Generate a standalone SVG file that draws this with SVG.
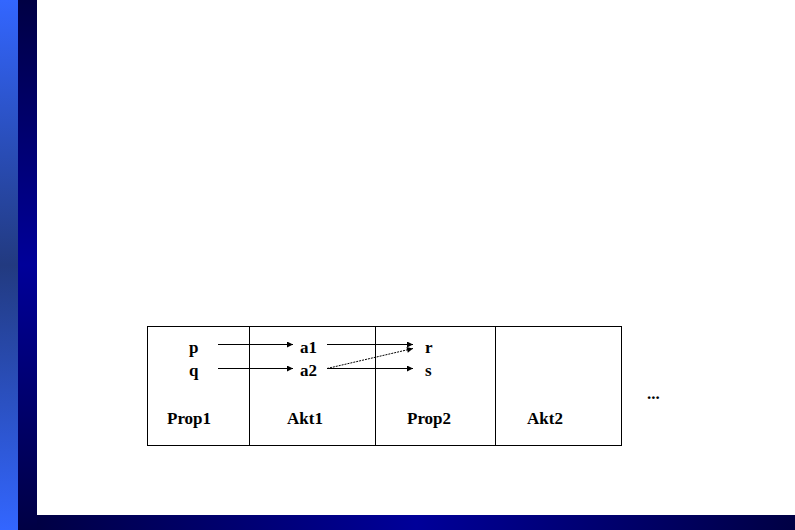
<svg xmlns="http://www.w3.org/2000/svg" width="795" height="530" viewBox="0 0 795 530">
<defs>
<linearGradient id="lb" x1="0" y1="0" x2="0" y2="1">
<stop offset="0" stop-color="#3366ff"/>
<stop offset="0.5" stop-color="#223a80"/>
<stop offset="1" stop-color="#3366ff"/>
</linearGradient>
<linearGradient id="db" x1="0" y1="0" x2="0" y2="1">
<stop offset="0" stop-color="#000044"/>
<stop offset="0.5" stop-color="#000099"/>
<stop offset="1" stop-color="#000044"/>
</linearGradient>
<linearGradient id="bb" x1="0" y1="0" x2="1" y2="0">
<stop offset="0" stop-color="#000044"/>
<stop offset="0.5" stop-color="#000099"/>
<stop offset="1" stop-color="#000044"/>
</linearGradient>
<marker id="ah" viewBox="0 0 10 10" refX="10" refY="5" markerWidth="9" markerHeight="6" markerUnits="userSpaceOnUse" orient="auto">
<path d="M0,0 L10,5 L0,10 z" fill="#000"/>
</marker>
<style>
.t{font-family:"Liberation Serif","Times New Roman",serif;font-weight:bold;font-size:17px;fill:#000}
.c{stroke:#000;stroke-width:1;fill:none}
</style>
</defs>
<rect x="0" y="0" width="795" height="530" fill="#fff"/>
<rect x="0" y="0" width="18" height="530" fill="url(#lb)"/>
<rect x="18" y="0" width="19" height="530" fill="url(#db)"/>
<rect x="37" y="515" width="758" height="15" fill="url(#bb)"/>
<g id="table" fill="none" stroke="#000" stroke-width="1">
<rect x="147.5" y="326.5" width="474" height="119"/>
<line x1="249.5" y1="326" x2="249.5" y2="446"/>
<line x1="375.5" y1="326" x2="375.5" y2="446"/>
<line x1="495.5" y1="326" x2="495.5" y2="446"/>
</g>
<g id="prop1"><text class="t" x="189" y="353">p</text><text class="t" x="189" y="376">q</text><text class="t" x="167" y="424">Prop1</text></g>
<g id="akt1"><text class="t" x="300" y="353">a1</text><text class="t" x="300" y="376">a2</text><text class="t" x="287" y="424">Akt1</text></g>
<g id="prop2"><text class="t" x="425" y="353">r</text><text class="t" x="425" y="376">s</text><text class="t" x="407" y="424">Prop2</text></g>
<g id="akt2"><text class="t" x="527" y="424">Akt2</text></g>
<g id="more"><text class="t" x="647" y="399">...</text></g>
<g id="connectors">
<line class="c" x1="218" y1="344.5" x2="293" y2="344.5" marker-end="url(#ah)"/>
<line class="c" x1="218" y1="368.5" x2="293" y2="368.5" marker-end="url(#ah)"/>
<line class="c" x1="327" y1="344.5" x2="413" y2="344.5" marker-end="url(#ah)"/>
<line class="c" x1="327" y1="368.5" x2="413" y2="368.5" marker-end="url(#ah)"/>
<line class="c" x1="327" y1="368.5" x2="413" y2="348.5" stroke-dasharray="2,1" marker-end="url(#ah)"/>
</g>
</svg>
